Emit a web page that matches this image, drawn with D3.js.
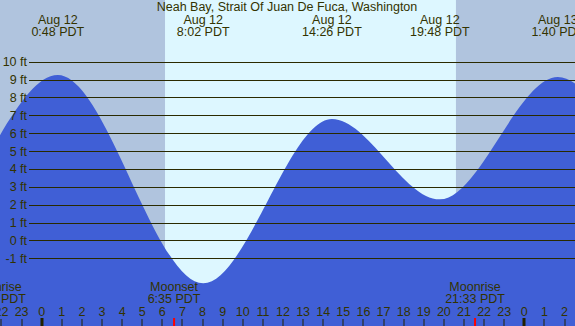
<!DOCTYPE html>
<html><head><meta charset="utf-8">
<script src="https://cdn.jsdelivr.net/npm/d3@7"></script>
<style>html,body{margin:0;padding:0;overflow:hidden;background:#b0c4de}svg{display:block}</style>
</head><body>
<svg id="c" width="575" height="326"></svg>
<script>
const title = "Neah Bay, Strait Of Juan De Fuca, Washington";
// hours relative to Aug 12 00:00 PDT
const tideHours = [-12, -6, 0.8, 8.033, 14.433, 19.8, 25.667, 33.3, 39.5];
const tideFeet  = [7.5, 0.5, 9.25, -2.4, 6.8, 2.3, 9.15, -1.3, 7.0];
const extremeHours = [0.8, 8.033, 14.433, 19.8, 25.667];
const extremeDays  = ["Aug 12", "Aug 12", "Aug 12", "Aug 12", "Aug 13"];
const extremeTimes = ["0:48 PDT", "8:02 PDT", "14:26 PDT", "19:48 PDT", "1:40 PDT"];
const dayStart = [6.133];   // sunrise
const dayEnd   = [20.6];    // sunset
const moonHours = [-2.27, 6.583, 21.55];
const moonNames = ["Moonrise", "Moonset", "Moonrise"];
const moonTimes = ["21:44 PDT", "6:35 PDT", "21:33 PDT"];
const feetTicks = [-1, 0, 1, 2, 3, 4, 5, 6, 7, 8, 9, 10];
const hourTicks = d3.range(-2, 27);

const W = 575, H = 326;
const svg = d3.select("#c");
const x = d3.scaleLinear().domain([0, 24]).range([41.7, 524.3]);
const y = d3.scaleLinear().domain([-1, 10]).range([258.3, 61.7]);
const txt = "#333300", font = "'Liberation Sans', Arial, sans-serif";

svg.append("rect").attr("width", W).attr("height", H).attr("fill", "#b0c4de");
dayStart.forEach((s, i) => {
  svg.append("rect").attr("x", x(s)).attr("y", 0)
    .attr("width", x(dayEnd[i]) - x(s)).attr("height", H).attr("fill", "#ddf7ff");
});

const pts = tideHours.map((h, i) => [h, tideFeet[i]]);
const area = d3.area().x(d => x(d[0])).y0(H).y1(d => y(d[1])).curve(d3.curveMonotoneX);
svg.append("path").datum(pts).attr("d", area).attr("fill", "#405fd6");

svg.append("g").selectAll("line").data(feetTicks).join("line")
  .attr("x1", 29).attr("x2", W)
  .attr("y1", d => Math.round(y(d)) + 0.5).attr("y2", d => Math.round(y(d)) + 0.5)
  .attr("stroke", "#2a2a00").attr("stroke-width", 1);

svg.append("g").selectAll("text").data(feetTicks).join("text")
  .attr("x", 27).attr("y", d => y(d) + 4.5).attr("text-anchor", "end")
  .attr("font-family", font).attr("font-size", 12.5).attr("fill", txt)
  .text(d => d + " ft");

svg.append("text").attr("x", 287).attr("y", 11).attr("text-anchor", "middle")
  .attr("font-family", font).attr("font-size", 12.5).attr("fill", txt).text(title);

const ex = svg.append("g").attr("font-family", font).attr("font-size", 12.5).attr("fill", txt).attr("text-anchor", "middle");
extremeHours.forEach((h, i) => {
  ex.append("text").attr("x", x(h)).attr("y", 24).text(extremeDays[i]);
  ex.append("text").attr("x", x(h)).attr("y", 35.5).text(extremeTimes[i]);
});

const mo = svg.append("g").attr("font-family", font).attr("font-size", 12.5).attr("fill", txt).attr("text-anchor", "middle");
moonHours.forEach((h, i) => {
  mo.append("text").attr("x", x(h)).attr("y", 291).text(moonNames[i]);
  mo.append("text").attr("x", x(h)).attr("y", 302.5).text(moonTimes[i]);
  svg.append("rect").attr("x", x(h) - 1).attr("y", 318).attr("width", 2).attr("height", 8).attr("fill", "#ff0000");
});

const hx = svg.append("g").attr("font-family", font).attr("font-size", 12.5).attr("fill", txt).attr("text-anchor", "middle");
hourTicks.forEach(h => {
  const lab = ((h % 24) + 24) % 24;
  hx.append("text").attr("x", x(h)).attr("y", 315.5).text(lab);
  if (lab === 0) {
    svg.append("rect").attr("x", Math.round(x(h)) - 1.5).attr("y", 318).attr("width", 3).attr("height", 8).attr("fill", "#222200");
  } else {
    svg.append("rect").attr("x", Math.round(x(h)) - 0.5).attr("y", 319).attr("width", 1).attr("height", 7).attr("fill", "#222200");
  }
});
</script>
</body></html>
